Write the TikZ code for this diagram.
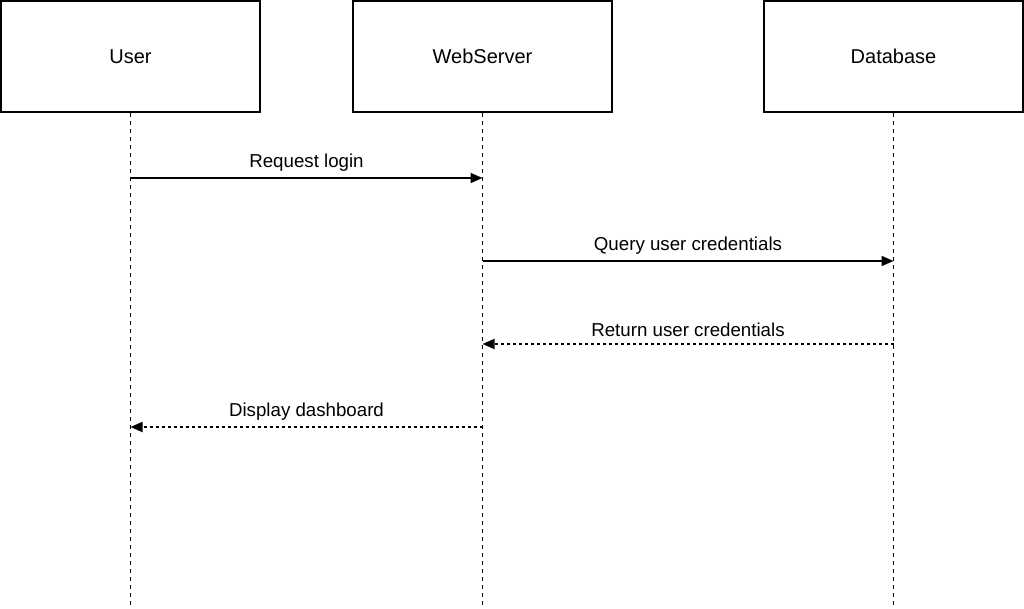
\documentclass[tikz,border=0pt]{standalone}
\usepackage{fontspec}
\setmainfont{Liberation Sans}
\usetikzlibrary{arrows.meta}
\begin{document}
\begin{tikzpicture}[x=1pt,y=-1pt,
  actor/.style={draw=black,line width=1.8pt,fill=white,minimum width=259pt,minimum height=111pt,inner sep=0pt,font=\fontsize{20}{24}\selectfont},
  lifeline/.style={line width=1.8pt,dash pattern=on 4pt off 4pt},
  msg/.style={line width=1.8pt,-{Triangle[length=12pt,width=10pt]}},
  reply/.style={msg,dash pattern=on 2.5pt off 3.5pt},
  lbl/.style={font=\fontsize{18.7}{22}\selectfont,inner sep=0pt}]
\useasboundingbox (0,0) rectangle (1024,609);
\node[actor] (user) at (130.5,56.5) {User};
\node[actor] (web) at (482.5,56.5) {WebServer};
\node[actor] (db) at (893.5,56.5) {Database};
\coordinate (ue) at (130.5,605);
\coordinate (we) at (482.5,605);
\coordinate (de) at (893.5,605);
\draw[lifeline] (user.south) -- (ue);
\draw[lifeline] (web.south) -- (we);
\draw[lifeline] (db.south) -- (de);
\coordinate (u1) at (130.5,178); \coordinate (w1) at (482.5,178);
\coordinate (w2) at (482.5,261); \coordinate (d2) at (893.5,261);
\coordinate (d3) at (893.5,344); \coordinate (w3) at (482.5,344);
\coordinate (w4) at (482.5,427); \coordinate (u4) at (130.5,427);
\draw[msg] (u1) -- node[lbl,above=6pt] (l1) {Request login} (w1);
\draw[msg] (w2) -- node[lbl,above=6pt] (l2) {Query user credentials} (d2);
\draw[reply] (d3) -- node[lbl,above=6pt] (l3) {Return user credentials} (w3);
\draw[reply] (w4) -- node[lbl,above=6pt] (l4) {Display dashboard} (u4);
\end{tikzpicture}
\end{document}
